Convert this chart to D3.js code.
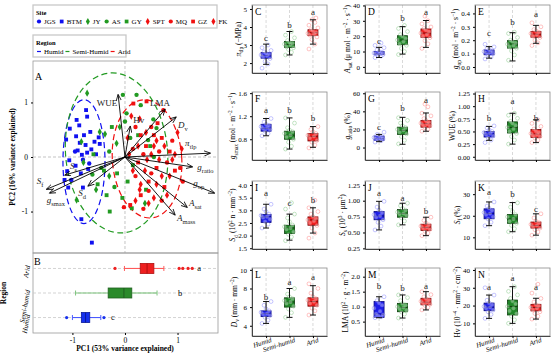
<!DOCTYPE html>
<html><head><meta charset="utf-8">
<script src="https://cdn.jsdelivr.net/npm/d3@7"></script>
<style>body{margin:0;background:#fff}svg{display:block}</style>
</head><body><svg id="c" width="554" height="355"></svg>
<script>
// ---------------- DATA ----------------
const regions = ["Humid","Semi-humid","Arid"];
const siteNames = ["JGS","BTM","JY","AS","GY","SPT","MQ","GZ","FK"];
const siteRegion = ["Humid","Humid","Semi-humid","Semi-humid","Semi-humid","Arid","Arid","Arid","Arid"];
const pcaJGS = [[-0.95,0.10],[-0.80,-0.05],[-0.68,-0.12],[-1.02,-0.42]];
const pcaBTM = [[-0.74,0.86],[-0.72,0.74],[-0.92,0.68],[-0.87,0.58],[-1.05,0.52],[-1.12,0.32],[-0.93,0.38],[-0.78,0.40],[-0.66,0.46],[-0.86,0.26],[-0.75,0.22],[-0.64,0.14],[-0.72,0.08],[-0.82,0.04],[-0.90,0.12],[-0.58,0.28],[-0.50,0.36],[-0.48,0.24],[-0.55,0.05],[-1.06,-0.06],[-1.10,-0.26],[-1.15,-0.42],[-1.08,-0.56],[-0.84,-0.30],[-0.80,-0.56],[-0.70,-0.22],[-0.94,-0.16],[-0.83,-1.14],[-0.63,-1.57]];
const pcaJY = [[-0.72,1.17],[-0.48,0.46],[-0.38,0.42],[-0.83,0.28],[-0.16,0.25],[-0.79,-0.10],[-0.30,-0.35],[-0.55,-0.60],[-0.92,-0.79],[0.38,-0.85],[-0.10,0.55]];
const pcaAS = [[0.22,1.14],[0.03,0.80],[0.00,0.65],[0.54,0.69],[0.60,0.53],[0.44,0.31],[-0.04,1.14],[0.30,0.95],[-0.30,0.10],[-0.45,-0.20],[-0.62,-0.32],[0.10,0.35],[0.55,0.00],[-0.20,-0.55]];
const pcaGY = [[-0.29,-1.00],[0.13,-0.94],[-0.40,-0.25],[-0.52,-0.50],[-0.35,-0.70],[-0.15,-0.30],[0.05,-0.45],[-0.60,0.05],[0.25,0.40],[0.48,0.20],[0.15,-0.15],[-0.05,-0.75],[0.40,-0.60],[-0.25,0.55]];
const pcaSPT = [[0.05,0.35],[0.28,0.70],[0.55,0.20],[0.75,0.20],[0.42,-0.05],[0.65,-0.05],[0.15,-0.25],[0.85,-0.35],[0.30,-0.50],[0.55,-0.75],[0.95,0.05],[0.20,-0.80],[0.80,-0.70],[0.12,0.75],[1.00,0.45]];
const pcaMQ = [[0.73,0.86],[0.20,0.55],[0.50,0.55],[0.35,0.05],[0.65,0.10],[0.15,0.15],[0.80,-0.10],[0.20,-0.35],[0.50,-0.30],[1.05,-0.20],[0.70,-0.80],[0.35,-0.95],[-0.02,-0.92],[0.90,0.30],[1.10,-0.45],[0.45,-0.62]];
const pcaGZ = [[0.16,0.98],[0.41,1.02],[0.30,0.40],[0.55,0.40],[0.70,0.35],[0.40,0.20],[0.85,0.10],[0.25,-0.10],[0.60,-0.20],[0.95,-0.25],[0.45,-0.45],[0.75,-0.55],[0.30,-0.70],[0.10,-0.88],[0.62,0.62]];
const pcaFK = [[0.40,0.45],[0.60,0.30],[0.25,0.20],[0.50,0.05],[0.70,-0.35],[0.38,-0.25],[0.90,-0.05],[0.60,-0.50],[0.28,-0.60],[0.45,-0.85],[0.08,0.05],[1.08,0.15]];
const ellCX = [-0.78,-0.16,0.42], ellCY = [-0.085,0.075,-0.035], ellRX = [0.40,0.97,0.66], ellRY = [1.135,1.47,1.085];
const loadNames = ["WUE","LMA","Hv","Dv","tlp","gratio","gop","Asat","Amass","Ss","Sf","gsmax","Sd"];
const loadPC1 = [-0.13,0.76,0.10,0.97,1.62,1.28,1.70,1.18,0.95,-1.14,-1.49,-1.43,-0.70];
const loadPC2 = [1.14,0.87,0.56,0.73,0.07,-0.18,-0.66,-0.92,-1.06,-0.33,-0.59,-0.66,-0.53];
const pc1StatsArid = [-0.01,0.29,0.42,0.55,0.74], pc1OutArid = [-0.19,1.03,1.10,1.20,1.28];
const pc1StatsSemi = [-0.94,-0.32,-0.02,0.13,0.61], pc1OutSemi = [];
const pc1StatsHumid = [-1.00,-0.83,-0.75,-0.67,-0.46], pc1OutHumid = [-1.11,-0.40];
const pc1Letters = ["a","b","c"], pc1LetterX = [1.41,1.05,-0.23];

const panelIds = ["C","D","E","F","G","H","I","J","K","L","M","N"];
const panelDomains = [[1.45,5.22],[-4,40.3],[-0.045,0.463],[0.44,1.62],[-13.8,61.4],[-0.064,1.28],[1.47,4.16],[0.24,1.31],[4.6,36.1],[2.9,10.2],[0.02,2.29],[2.9,41.1]];
const panelTicks = [[2,3,4,5],[0,10,20,30,40],[0,0.1,0.2,0.3,0.4],[0.8,1.2,1.6],[0,20,40,60],[0,0.25,0.5,0.75,1,1.25],[1.5,2,2.5,3,3.5,4],[0.25,0.5,0.75,1,1.25],[10,20,30],[4,6,8,10],[0.5,1,1.5,2],[10,20,30,40]];
const tickFormats = ["d","d",".1f",".1f","d",".2f",".1f",".2f","d","d",".1f","d"];
const statsHumid = [[1.93,2.27,2.42,2.58,3.05],[6.1,7.9,8.7,10.0,12.7],[0.066,0.091,0.11,0.127,0.152],[0.86,0.94,0.99,1.06,1.16],[6.5,8.0,10,12.7,14.5],[0.325,0.39,0.45,0.50,0.60],[2.3,2.52,2.74,2.84,3.24],[0.54,0.70,0.76,0.83,0.99],[15.4,18.6,21.1,23.2,26.4],[4.25,4.98,5.3,5.6,6.6],[0.63,0.64,0.75,1.17,1.33],[12.8,17.1,19.1,21.4,25.9]];
const statsSemi = [[2.45,2.86,3.03,3.2,3.75],[8.3,14.4,17.5,20.3,26.2],[0.045,0.141,0.172,0.197,0.256],[0.63,0.80,0.87,0.94,1.17],[3.6,14.5,18.9,22.5,33.4],[0.25,0.47,0.58,0.69,0.86],[1.82,2.08,2.3,2.41,2.85],[0.62,0.74,0.8,0.86,0.96],[12.6,16.5,18.5,20.6,26.1],[4.9,6.0,6.55,7.0,8.0],[0.62,0.83,0.97,1.11,1.39],[10,14.7,19.5,23.1,30.6]];
const statsArid = [[3.05,3.52,3.68,3.85,4.4],[12.7,19.2,22,24.7,30.2],[0.177,0.222,0.245,0.265,0.311],[0.66,0.77,0.85,0.90,1.02],[18,22.5,26.5,29.8,38.2],[0.28,0.38,0.45,0.54,0.73],[2.1,2.41,2.62,2.74,3.1],[0.45,0.53,0.58,0.63,0.74],[11,14.3,15.5,17.1,20.9],[5.15,6.1,6.6,7.0,8.3],[0.89,1.06,1.15,1.28,1.5],[12.4,17,18.9,20.7,24.1]];
const ptsHumid = [[1.72,1.95,2.1,2.25,2.35,2.4,2.45,2.5,2.55,2.62,2.7,2.85,3.0],[6,7,7.5,8,8.5,8.8,9,9.5,10,11,12.5,14,15.5],[0.06,0.075,0.09,0.1,0.105,0.11,0.115,0.12,0.13,0.14,0.15,0.17],[0.86,0.9,0.94,0.97,0.99,1.0,1.02,1.04,1.06,1.1,1.16],[6,7.5,8.5,9.5,10,10.5,11,12,13,14.5,17],[0.28,0.33,0.38,0.41,0.44,0.46,0.48,0.5,0.53,0.57,0.61],[2.3,2.45,2.55,2.65,2.72,2.75,2.8,2.85,2.95,3.05,3.24],[0.54,0.6,0.66,0.7,0.74,0.76,0.78,0.81,0.85,0.9,0.99],[15.4,17,18.5,19.5,20.5,21,21.5,22.5,23.5,24.5,26.4],[4.25,4.6,4.9,5.1,5.25,5.3,5.45,5.6,5.8,6.2,6.6],[0.63,0.66,0.7,0.73,0.76,0.85,0.95,1.05,1.12,1.2,1.33],[12.8,15,16.5,17.5,18.5,19,19.5,20.5,21.5,23,25.9,30]];
const ptsSemi = [[2.45,2.6,2.75,2.85,2.9,3.0,3.05,3.1,3.15,3.25,3.4,3.55,3.75],[8,10,12,14,15,16.5,17.5,18.5,20,21,23,25,27],[0.05,0.09,0.12,0.14,0.15,0.16,0.17,0.18,0.19,0.2,0.22,0.25,0.26],[0.63,0.68,0.75,0.8,0.84,0.87,0.9,0.93,0.96,1.0,1.08,1.17],[4,8,12,15,17,19,20,22,24,27,30,33],[0.25,0.33,0.4,0.46,0.5,0.55,0.58,0.62,0.66,0.7,0.76,0.82,0.86],[1.8,1.95,2.05,2.15,2.25,2.3,2.35,2.42,2.55,2.7,2.85,3.05,3.3],[0.62,0.68,0.73,0.77,0.79,0.8,0.82,0.85,0.88,0.92,0.96],[12.6,14,15.5,16.5,17.5,18.5,19.5,20.5,22,24,26],[4.9,5.4,5.8,6.1,6.4,6.55,6.7,6.9,7.1,7.4,8.0],[0.62,0.75,0.82,0.88,0.93,0.97,1.0,1.05,1.1,1.2,1.3,1.39],[10,12,14,15.5,17,18.5,19.5,21,22.5,24,26,28,30.6]];
const ptsArid = [[2.78,3.05,3.3,3.45,3.55,3.6,3.65,3.7,3.78,3.85,3.95,4.1,4.25,4.4,4.5],[12,15,17,19,20,21,22,23,24,25,26,28,30,33],[0.16,0.18,0.2,0.22,0.23,0.24,0.25,0.26,0.27,0.28,0.3,0.33],[0.65,0.7,0.75,0.78,0.82,0.85,0.87,0.9,0.93,0.97,1.02],[18,20,22,24,25,26,27,28,30,32,35,38,45,48],[0.28,0.33,0.37,0.4,0.42,0.44,0.46,0.48,0.51,0.55,0.6,0.66,0.73],[1.9,2.1,2.3,2.4,2.5,2.58,2.62,2.68,2.75,2.85,2.95,3.1,3.4],[0.45,0.49,0.52,0.55,0.57,0.58,0.6,0.62,0.65,0.69,0.74],[11,12.5,13.5,14.3,15,15.5,16,16.8,17.5,19,20.9],[5.15,5.6,5.9,6.2,6.4,6.6,6.75,6.9,7.1,7.5,8.0,8.5],[0.89,0.98,1.04,1.08,1.12,1.15,1.18,1.22,1.27,1.33,1.4,1.5],[12.4,14,15.5,16.5,17.5,18.5,19,19.8,20.5,22,24,27,32]];
const lettersHumid = ["c","c","c","a","c","b","a","a","a","b","b","a"];
const lettersSemi  = ["b","b","b","b","b","a","c","a","b","a","b","a"];
const lettersArid  = ["a","a","a","b","a","b","b","b","c","a","a","a"];
const letterYHumid = [3.41,17,0.25,1.31,22.5,0.765,3.68,1.12,30.8,7.1,1.7,30.6];
const letterYSemi  = [4.09,31.5,0.333,1.31,44,1.10,3.29,1.04,30,8.7,1.61,35.3];
const letterYArid  = [4.82,35.4,0.394,1.17,52.7,0.77,3.41,0.83,23.1,9.27,1.67,30.6];

// ---------------- STYLE / LAYOUT ----------------
const FONT = '"Liberation Serif","DejaVu Serif",serif';
const svg = d3.select("#c").attr("font-family", FONT);
const regColor = {"Humid":"#1010f0","Semi-humid":"#229a22","Arid":"#f01010"};
const siteShapes = [d3.symbolCircle,d3.symbolSquare,d3.symbolDiamond,d3.symbolCircle,d3.symbolSquare,d3.symbolDiamond,d3.symbolCircle,d3.symbolSquare,d3.symbolDiamond];
const sitePts = [pcaJGS,pcaBTM,pcaJY,pcaAS,pcaGY,pcaSPT,pcaMQ,pcaGZ,pcaFK];

function rich(t, segs, fs){
  let shift = 0;
  segs.forEach(([s,st])=>{
    const ts = t.append("tspan").text(s);
    let target = 0, size = fs;
    if(st==="sub"){target = fs*0.3; size = fs*0.72;}
    else if(st==="sup"){target = -fs*0.38; size = fs*0.72;}
    ts.attr("dy",(target-shift).toFixed(2)).attr("font-size",size);
    if(st==="i") ts.attr("font-style","italic");
    shift = target;
  });
}

// ---------- Legends ----------
const lg = svg.append("g");
lg.append("rect").attr("x",33).attr("y",5).attr("width",184).attr("height",23).attr("fill","#fff").attr("stroke","#c8c8c8").attr("stroke-width",1.3);
lg.append("text").attr("x",36).attr("y",15).attr("font-size",6.5).attr("font-weight","bold").text("Site");
let lx = 39;
siteNames.forEach((s,i)=>{
  lg.append("path").attr("d",d3.symbol().type(siteShapes[i]).size(14)()).attr("transform",`translate(${lx},21.5)`).attr("fill",regColor[siteRegion[i]]);
  const t = lg.append("text").attr("x",lx+5).attr("y",24).attr("font-size",7).text(s);
  lx = lx + 5 + t.node().getComputedTextLength() + 6;
});
lg.append("rect").attr("x",33).attr("y",35).attr("width",93).attr("height",22).attr("fill","#fff").attr("stroke","#c8c8c8").attr("stroke-width",1.3);
lg.append("text").attr("x",36).attr("y",45).attr("font-size",6.5).attr("font-weight","bold").text("Region");
const regLegNames = ["Humid","Semi-Humid","Arid"];
let rx = 37;
regLegNames.forEach((s,i)=>{
  lg.append("line").attr("x1",rx).attr("x2",rx+4).attr("y1",51.5).attr("y2",51.5).attr("stroke",regColor[regions[i]]).attr("stroke-width",1.2);
  const t = lg.append("text").attr("x",rx+7).attr("y",54).attr("font-size",7).text(s);
  rx = rx + 7 + t.node().getComputedTextLength() + 2;
});

// ---------- Panel A: PCA ----------
const xP = d3.scaleLinear().domain([-1.75,1.77]).range([33,218]);
const yA = d3.scaleLinear().domain([-1.76,1.76]).range([253,61]);
const gA = svg.append("g");
gA.append("rect").attr("x",33).attr("y",61).attr("width",185).attr("height",192).attr("fill","none").attr("stroke","#9a9a9a").attr("stroke-width",0.8);
gA.append("line").attr("x1",xP(0)).attr("x2",xP(0)).attr("y1",61).attr("y2",253).attr("stroke","#aaa").attr("stroke-dasharray","3,2").attr("stroke-width",0.7);
gA.append("line").attr("x1",33).attr("x2",218).attr("y1",yA(0)).attr("y2",yA(0)).attr("stroke","#aaa").attr("stroke-dasharray","3,2").attr("stroke-width",0.7);
const ellRot = [0,-5,-4];
[0,1,2].forEach(k=>{
  const cx = xP(ellCX[k]), cy = yA(ellCY[k]);
  gA.append("ellipse").attr("cx",cx).attr("cy",cy).attr("rx",xP(ellRX[k])-xP(0)).attr("ry",yA(0)-yA(ellRY[k]))
    .attr("transform",`rotate(${ellRot[k]},${cx},${cy})`).attr("fill","none").attr("stroke",regColor[regions[k]])
    .attr("stroke-width",1.2).attr("stroke-dasharray","6,3.5");
});
sitePts.forEach((arr,i)=>{
  arr.forEach(p=>{
    gA.append("path").attr("d",d3.symbol().type(siteShapes[i]).size(15)()).attr("transform",`translate(${xP(p[0])},${yA(p[1])})`).attr("fill",regColor[siteRegion[i]]);
  });
});
const defs = svg.append("defs");
defs.append("marker").attr("id","ah").attr("markerUnits","userSpaceOnUse").attr("markerWidth",8).attr("markerHeight",6).attr("refX",6).attr("refY",3).attr("orient","auto")
  .append("path").attr("d","M0,0.4 L6.5,3 L0,5.6").attr("fill","none").attr("stroke","#000").attr("stroke-width",0.8);
const loadLabelSegs = {
  WUE:[["WUE","n"]], LMA:[["LMA","n"]], Hv:[["Hv","n"]], Dv:[["D","i"],["v","sub"]],
  tlp:[["π","i"],["tlp","sub"]], gratio:[["g","i"],["ratio","sub"]], gop:[["g","i"],["op","sub"]],
  Asat:[["A","i"],["sat","sub"]], Amass:[["A","i"],["mass","sub"]], Ss:[["S","i"],["s","sub"]],
  Sf:[["S","i"],["f","sub"]], gsmax:[["g","i"],["smax","sub"]], Sd:[["S","i"],["d","sub"]]
};
const loadLabelOff = {WUE:[-1,11,"end"],LMA:[-15,-4,"start"],Hv:[3,-3,"start"],Dv:[2,11,"start"],tlp:[-25,-7,"start"],gratio:[5,3,"start"],gop:[-21,-7,"start"],Asat:[2,-1,"start"],Amass:[2,6,"start"],Ss:[5,-6,"start"],Sf:[-10,-5,"start"],gsmax:[-3,10,"start"],Sd:[-10,10,"start"]};
loadNames.forEach((n,i)=>{
  const tx = xP(loadPC1[i]), ty = yA(loadPC2[i]);
  gA.append("line").attr("x1",xP(0)).attr("y1",yA(0)).attr("x2",tx).attr("y2",ty).attr("stroke","#000").attr("stroke-width",0.9).attr("marker-end","url(#ah)");
  const o = loadLabelOff[n];
  const t = gA.append("text").attr("x",tx+o[0]).attr("y",ty+o[1]).attr("font-size",9).attr("text-anchor",o[2]).attr("fill","#222");
  rich(t, loadLabelSegs[n], 9);
});
gA.append("text").attr("x",35).attr("y",80).attr("font-size",10).text("A");
const axA = gA.append("g").attr("transform","translate(33,0)").call(d3.axisLeft(yA).tickValues([-1,0,1]).tickSize(2).tickSizeOuter(0).tickFormat(d=>String(d)));
axA.select(".domain").remove();
axA.attr("font-family",FONT).selectAll("text").attr("font-size",7.5);
svg.append("text").attr("transform","translate(15,157) rotate(-90)").attr("text-anchor","middle").attr("font-size",7.5).attr("font-weight","bold").text("PC2 (16% variance explained)");

// ---------- Panel B ----------
const yB = d3.scalePoint().domain(["Arid","Semi-humid","Humid"]).range([253,333]).padding(0.63);
const gB = svg.append("g");
gB.append("rect").attr("x",33).attr("y",253).attr("width",185).attr("height",80).attr("fill","none").attr("stroke","#9a9a9a").attr("stroke-width",0.8);
["Arid","Semi-humid","Humid"].forEach(r=>{
  gB.append("line").attr("x1",33).attr("x2",218).attr("y1",yB(r)).attr("y2",yB(r)).attr("stroke","#c8c8c8").attr("stroke-dasharray","3,2").attr("stroke-width",0.8);
});
const bStats = {"Arid":pc1StatsArid,"Semi-humid":pc1StatsSemi,"Humid":pc1StatsHumid};
const bOut = {"Arid":pc1OutArid,"Semi-humid":pc1OutSemi,"Humid":pc1OutHumid};
const bWhisk = {"Arid":"#ff5a5a","Semi-humid":"#7cc47c","Humid":"#4a5aff"};
const bFill = {"Arid":"#ee2020","Semi-humid":"#2a8a2a","Humid":"#1530ee"};
const bStroke = {"Arid":"#b01010","Semi-humid":"#1f5f1f","Humid":"#0a1a99"};
["Arid","Semi-humid","Humid"].forEach((r,k)=>{
  const s = bStats[r], cy = yB(r), bh = 10;
  gB.append("line").attr("x1",xP(s[0])).attr("x2",xP(s[1])).attr("y1",cy).attr("y2",cy).attr("stroke",bWhisk[r]).attr("stroke-width",1.1);
  gB.append("line").attr("x1",xP(s[3])).attr("x2",xP(s[4])).attr("y1",cy).attr("y2",cy).attr("stroke",bWhisk[r]).attr("stroke-width",1.1);
  [s[0],s[4]].forEach(v=>gB.append("line").attr("x1",xP(v)).attr("x2",xP(v)).attr("y1",cy-2.5).attr("y2",cy+2.5).attr("stroke",bWhisk[r]).attr("stroke-width",1));
  gB.append("rect").attr("x",xP(s[1])).attr("y",cy-bh/2).attr("width",xP(s[3])-xP(s[1])).attr("height",bh).attr("fill",bFill[r]).attr("stroke",bStroke[r]).attr("stroke-width",0.8);
  gB.append("line").attr("x1",xP(s[2])).attr("x2",xP(s[2])).attr("y1",cy-bh/2).attr("y2",cy+bh/2).attr("stroke",bStroke[r]).attr("stroke-width",1);
  bOut[r].forEach(v=>gB.append("circle").attr("cx",xP(v)).attr("cy",cy).attr("r",1.6).attr("fill",bFill[r]));
  gB.append("text").attr("x",xP(pc1LetterX[k])).attr("y",cy).attr("dy","0.32em").attr("text-anchor","middle").attr("font-size",8.5).text(pc1Letters[k]);
  gB.append("text").attr("transform",`translate(28,${cy-3}) rotate(-80)`).attr("text-anchor","end").attr("dy","0.3em").attr("font-size",7).attr("font-style","italic").text(r);
});
gB.append("text").attr("x",34).attr("y",265).attr("font-size",10).text("B");
const axB = gB.append("g").attr("transform","translate(0,333)").call(d3.axisBottom(xP).tickValues([-1,0,1]).tickSize(2).tickSizeOuter(0).tickFormat(d=>String(d)));
axB.select(".domain").remove();
axB.attr("font-family",FONT).selectAll("text").attr("font-size",7.5);
svg.append("text").attr("transform","translate(6,293) rotate(-90)").attr("text-anchor","middle").attr("font-size",7.5).attr("font-weight","bold").text("Region");
svg.append("text").attr("x",125).attr("y",351).attr("text-anchor","middle").attr("font-size",7.5).attr("font-weight","bold").text("PC1 (53% variance explained)");

// ---------- Right boxplot panels ----------
const colX = [252,365,475], rowY = [5,92,181,268], pw = 75, ph = 68;
const yLabelSegs = [
  [["π","i"],["tlp","sub"],[" (−MPa)","n"]],
  [["A","i"],["sat","sub"],[" (μ mol · m","n"],["−2","sup"],[" · s","n"],["−1","sup"],[")","n"]],
  [["g","i"],["op","sub"],[" (mol · m","n"],["−2","sup"],[" · s","n"],["−1","sup"],[")","n"]],
  [["g","i"],["smax","sub"],[" (mol · m","n"],["−2","sup"],[" · s","n"],["−1","sup"],[")","n"]],
  [["g","i"],["ratio","sub"],[" (%)","n"]],
  [["WUE (%)","n"]],
  [["S","i"],["d","sub"],[" (10","n"],["2","sup"],[" n · mm","n"],["−2","sup"],[")","n"]],
  [["S","i"],["s","sub"],[" (10","n"],["3","sup"],[" · μm","n"],["2","sup"],[")","n"]],
  [["S","i"],["f","sub"],[" (%)","n"]],
  [["D","i"],["v","sub"],[" (mm · mm","n"],["−2","sup"],[")","n"]],
  [["LMA (10","n"],["2","sup"],[" · g · m","n"],["−2","sup"],[")","n"]],
  [["Hv (10","n"],["−4","sup"],[" · mm","n"],["2","sup"],[" · cm","n"],["−2","sup"],[")","n"]]
];
const boxFill = ["#1e1ee6","#22862a","#ee1c1c"];
const boxStroke = ["#0a0a80","#0f400f","#7a0a0a"];
const ptStroke = ["#5050ff","#4caf50","#ff4a4a"];
const jit = [-4,2,-1,4,-3,1,-5,3,0,-2,5,-4,2,-1,3];
panelIds.forEach((id,i)=>{
  const col = i%3, row = Math.floor(i/3);
  const x0 = colX[col], y0 = rowY[row];
  const x = d3.scalePoint().domain(regions).range([x0,x0+pw]).padding(0.6);
  const y = d3.scaleLinear().domain(panelDomains[i]).range([y0+ph,y0]);
  const g = svg.append("g");
  regions.forEach(r=>g.append("line").attr("x1",x(r)).attr("x2",x(r)).attr("y1",y0).attr("y2",y0+ph).attr("stroke","#cfcfcf").attr("stroke-dasharray","3,2").attr("stroke-width",0.8));
  g.append("rect").attr("x",x0).attr("y",y0).attr("width",pw).attr("height",ph).attr("fill","none").attr("stroke","#8a8a8a").attr("stroke-width",0.8);
  const stats = [statsHumid[i],statsSemi[i],statsArid[i]];
  const pts = [ptsHumid[i],ptsSemi[i],ptsArid[i]];
  const lets = [lettersHumid[i],lettersSemi[i],lettersArid[i]];
  const letY = [letterYHumid[i],letterYSemi[i],letterYArid[i]];
  regions.forEach((r,k)=>{
    const cx = x(r), s = stats[k], bw = 10;
    g.append("rect").attr("x",cx-bw/2).attr("y",y(s[3])).attr("width",bw).attr("height",y(s[1])-y(s[3])).attr("fill",boxFill[k]).attr("stroke",boxStroke[k]).attr("stroke-width",0.8);
    g.append("line").attr("x1",cx-bw/2).attr("x2",cx+bw/2).attr("y1",y(s[2])).attr("y2",y(s[2])).attr("stroke",boxStroke[k]).attr("stroke-width",1);
    pts[k].forEach((v,j)=>g.append("circle").attr("cx",cx+jit[j%jit.length]).attr("cy",y(v)).attr("r",1.9)
      .attr("fill","#fff").attr("fill-opacity",0.35).attr("stroke",ptStroke[k]).attr("stroke-opacity",0.55).attr("stroke-width",0.6));
    g.append("line").attr("x1",cx).attr("x2",cx).attr("y1",y(s[0])).attr("y2",y(s[1])).attr("stroke","#111").attr("stroke-width",1);
    g.append("line").attr("x1",cx).attr("x2",cx).attr("y1",y(s[3])).attr("y2",y(s[4])).attr("stroke","#111").attr("stroke-width",1);
    [s[0],s[4]].forEach(v=>g.append("line").attr("x1",cx-3).attr("x2",cx+3).attr("y1",y(v)).attr("y2",y(v)).attr("stroke","#111").attr("stroke-width",1));
    g.append("text").attr("x",cx).attr("y",y(letY[k])).attr("dy","0.32em").attr("text-anchor","middle").attr("font-size",9).attr("fill","#222").text(lets[k]);
  });
  g.append("text").attr("x",x0+3).attr("y",y0+10).attr("font-size",9.5).text(id);
  const ax = g.append("g").attr("transform",`translate(${x0},0)`)
    .call(d3.axisLeft(y).tickValues(panelTicks[i]).tickSize(2).tickSizeOuter(0).tickFormat(d3.format(tickFormats[i])));
  ax.attr("font-family",FONT).selectAll("text").attr("font-size",7);
  ax.select(".domain").attr("stroke","#222").attr("stroke-width",0.8);
  const axb = g.append("g").attr("transform",`translate(0,${y0+ph})`)
    .call(d3.axisBottom(x).tickSize(2).tickSizeOuter(0).tickFormat(row===3 ? (d=>d) : ""));
  axb.select(".domain").attr("stroke","#222").attr("stroke-width",0.8);
  axb.attr("font-family",FONT);
  if(row===3){
    axb.selectAll("text").attr("font-size",7).attr("font-style","italic").attr("y",2)
      .attr("transform","rotate(-18)").style("text-anchor","end").attr("dx","0.5em").attr("dy","0.75em");
  }
  const bb = ax.node().getBBox();
  const lbl = g.append("text").attr("transform",`translate(${x0+bb.x-3},${y0+ph/2}) rotate(-90)`).attr("text-anchor","middle").attr("font-size",7.5);
  rich(lbl, yLabelSegs[i], 7.5);
});
</script></body></html>
